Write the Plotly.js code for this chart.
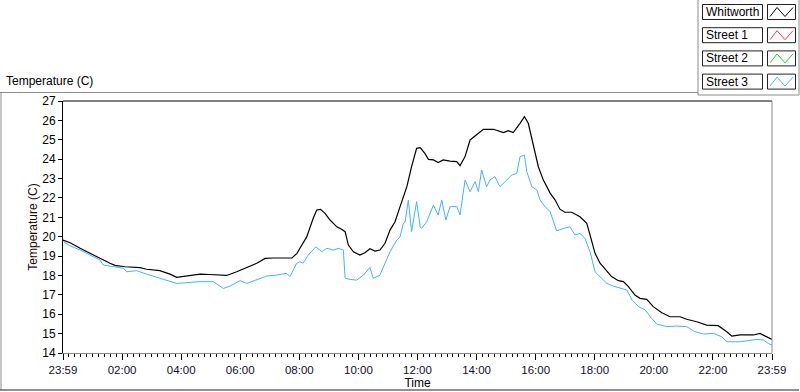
<!DOCTYPE html>
<html>
<head>
<meta charset="utf-8">
<script src="https://cdn.plot.ly/plotly-3.0.1.min.js"></script>
<style>
html,body{margin:0;padding:0;background:#fff;}
#chart{width:800px;height:392px;}
</style>
</head>
<body>
<div id="chart"></div>
<script>
// ---- data (hours since 23:59 of previous day) ----
const whitworthHours = [0.00,0.24,0.58,0.91,1.25,1.59,1.76,2.10,2.61,2.83,3.28,3.62,3.85,4.19,4.64,4.98,5.31,5.54,5.88,6.22,6.56,6.84,7.12,7.75,7.92,8.02,8.25,8.47,8.59,8.72,8.87,9.04,9.27,9.43,9.55,9.66,9.83,10.05,10.22,10.39,10.56,10.73,10.90,11.07,11.24,11.41,11.64,11.80,11.97,12.09,12.25,12.37,12.54,12.70,12.87,13.10,13.33,13.44,13.61,13.78,14.00,14.23,14.57,14.91,15.07,15.24,15.47,15.62,15.75,15.92,16.09,16.26,16.49,16.66,16.82,16.99,17.22,17.50,17.73,17.84,18.01,18.18,18.41,18.57,18.80,18.97,19.14,19.36,19.53,19.76,19.98,20.27,20.55,20.89,21.11,21.45,21.79,22.18,22.47,22.64,22.92,23.37,23.59,23.76,24.00];
const whitworthTemp = [19.83,19.69,19.40,19.14,18.88,18.63,18.52,18.45,18.40,18.32,18.25,18.07,17.90,17.97,18.07,18.05,18.02,18.00,18.19,18.42,18.63,18.88,18.90,18.90,19.14,19.40,19.99,20.95,21.38,21.41,21.20,20.86,20.51,20.38,20.26,19.57,19.22,19.05,19.17,19.38,19.26,19.31,19.66,20.34,20.77,21.55,22.58,23.61,24.56,24.59,24.30,23.99,23.96,23.82,23.96,23.90,23.87,23.66,24.13,24.99,25.25,25.54,25.54,25.37,25.47,25.37,25.85,26.19,25.85,24.64,23.61,22.92,22.25,21.89,21.42,21.26,21.26,21.03,20.69,20.09,19.14,18.63,18.19,17.94,17.73,17.68,17.42,16.99,16.82,16.77,16.39,16.08,15.87,15.87,15.74,15.61,15.44,15.41,15.10,14.87,14.93,14.93,15.01,14.87,14.70];

const street3Hours = [0.01,0.24,0.58,0.91,1.25,1.36,1.76,2.04,2.16,2.49,2.83,3.17,3.51,3.85,4.19,4.64,5.09,5.43,5.65,5.99,6.22,6.56,6.90,7.23,7.57,7.68,7.91,8.02,8.13,8.30,8.56,8.76,8.93,9.15,9.32,9.49,9.55,9.72,9.94,10.17,10.39,10.50,10.73,10.90,11.07,11.30,11.41,11.52,11.58,11.69,11.80,11.97,12.09,12.14,12.31,12.54,12.70,12.82,12.96,13.10,13.33,13.44,13.61,13.78,13.95,14.06,14.17,14.34,14.45,14.62,14.79,15.02,15.19,15.36,15.47,15.62,15.70,15.87,16.04,16.15,16.32,16.49,16.71,16.94,17.16,17.33,17.50,17.67,17.84,18.01,18.18,18.41,18.63,18.86,19.09,19.26,19.48,19.71,19.88,20.10,20.44,20.78,21.11,21.39,21.68,22.02,22.30,22.47,22.92,23.49,23.71,23.88,24.00];
const street3Temp = [19.74,19.53,19.31,19.05,18.80,18.54,18.42,18.37,18.19,18.25,18.07,17.90,17.76,17.59,17.63,17.68,17.68,17.33,17.45,17.73,17.59,17.80,17.97,18.02,18.11,17.94,18.63,18.71,18.63,19.05,19.48,19.22,19.40,19.31,19.40,19.31,17.85,17.80,17.76,18.02,18.42,17.85,18.02,18.63,19.22,19.83,19.99,20.69,20.77,21.89,20.26,21.81,20.51,20.43,20.77,21.63,21.12,21.89,20.86,21.55,21.55,21.12,22.92,22.32,22.84,22.32,23.44,22.58,22.92,23.10,22.58,22.92,23.18,23.27,24.13,24.21,23.35,22.58,22.41,21.89,21.55,21.29,20.30,20.43,20.51,20.09,20.17,19.91,19.22,18.19,17.94,17.59,17.45,17.33,17.25,16.73,16.39,16.22,15.87,15.49,15.36,15.39,15.36,15.10,14.98,15.01,14.84,14.58,14.58,14.70,14.67,14.49,14.41];

const tickHours = [0,2,4,6,8,10,12,14,16,18,20,22,24];
const tickLabels = ['23:59','02:00','04:00','06:00','08:00','10:00','12:00','14:00','16:00','18:00','20:00','22:00','23:59'];
const legendNames = ['Whitworth','Street 1','Street 2','Street 3'];
const legendColors = ['#000000','#ff3b3b','#1ed21e','#3db7f2'];

// ---- layout helpers (pixel -> paper) ----
const W = 800, H = 392, L = 63, R = 772, T = 101, B = 353;
const px = x => (x - L) / (R - L);
const py = y => (B - y) / (B - T);
const FONT = 'Liberation Sans, Arial, sans-serif';

const shapes = [];
const annotations = [];
const gray = '#8c8c8c';
function line(x0,y0,x1,y1,color,w){
  shapes.push({type:'line',xref:'paper',yref:'paper',x0:px(x0),y0:py(y0),x1:px(x1),y1:py(y1),line:{color:color,width:w||1}});
}
// outer panel frame
line(0,92.5,698,92.5,gray);
line(1,92.5,1,390,gray);
line(0,390,799,390,'#222');
// legend panel
line(698,0,698,95,gray);
line(799,0,799,95,gray);
line(698,95,799,95,gray);
// plot frame top and right
line(63,101,772,101,'#000');
line(772,101,772,353,gray);

legendNames.forEach((n,i)=>{
  const top = 4.5 + i*23.2, bot = top + 15;
  shapes.push({type:'rect',xref:'paper',yref:'paper',x0:px(702.5),x1:px(762.5),y0:py(top),y1:py(bot),line:{color:'#222',width:1},fillcolor:'#fff'});
  shapes.push({type:'rect',xref:'paper',yref:'paper',x0:px(767.5),x1:px(795.5),y0:py(top),y1:py(bot),line:{color:'#222',width:1},fillcolor:'#fff'});
  const pts = [[770,bot-3],[777,top+3],[785,bot-3],[793,top+3]];
  const path = 'M' + pts.map(p=>px(p[0])+','+py(p[1])).join(' L');
  shapes.push({type:'path',xref:'paper',yref:'paper',path:path,line:{color:legendColors[i],width:1}});
  annotations.push({xref:'paper',yref:'paper',x:px(704),y:py((top+bot)/2),xanchor:'left',yanchor:'middle',text:n,showarrow:false,font:{size:12,color:'#000',family:FONT}});
});
annotations.push({xref:'paper',yref:'paper',x:px(4),y:py(81),xanchor:'left',yanchor:'middle',text:'Temperature (C)',showarrow:false,font:{size:12,color:'#000',family:FONT}});

const traces = [
  {x:street3Hours,y:street3Temp,type:'scatter',mode:'lines',name:'Street 3',line:{color:'#3db7f2',width:1}},
  {x:whitworthHours,y:whitworthTemp,type:'scatter',mode:'lines',name:'Whitworth',line:{color:'#000000',width:1.2}}
];

const layout = {
  width:W,height:H,
  margin:{l:L,r:W-R,t:T,b:H-B,pad:0},
  paper_bgcolor:'#fff',plot_bgcolor:'#fff',
  showlegend:false,
  font:{family:FONT,size:12,color:'#000'},
  xaxis:{
    range:[0,24],tickvals:tickHours,ticktext:tickLabels,
    ticks:'outside',ticklen:6,tickcolor:'#000',tickwidth:1,
    minor:{dtick:0.2,tick0:0,ticks:'outside',ticklen:3,tickcolor:'#000',tickwidth:1,showgrid:false},
    showgrid:false,zeroline:false,showline:true,linecolor:gray,linewidth:1,
    tickfont:{size:11.5,color:'#10102a'},
    title:{text:'Time',font:{size:12,color:'#000'},standoff:2},
    fixedrange:true
  },
  yaxis:{
    range:[14,27],dtick:1,tick0:14,
    ticks:'outside',ticklen:4,tickcolor:'#000',tickwidth:1,
    showgrid:false,zeroline:false,showline:true,linecolor:'#000',linewidth:1,
    tickfont:{size:12,color:'#000'},
    title:{text:'Temperature (C)',font:{size:12,color:'#1a0a0a'},standoff:2},
    fixedrange:true
  },
  shapes:shapes,
  annotations:annotations
};

Plotly.newPlot('chart',traces,layout,{staticPlot:true,displayModeBar:false});
</script>
</body>
</html>
